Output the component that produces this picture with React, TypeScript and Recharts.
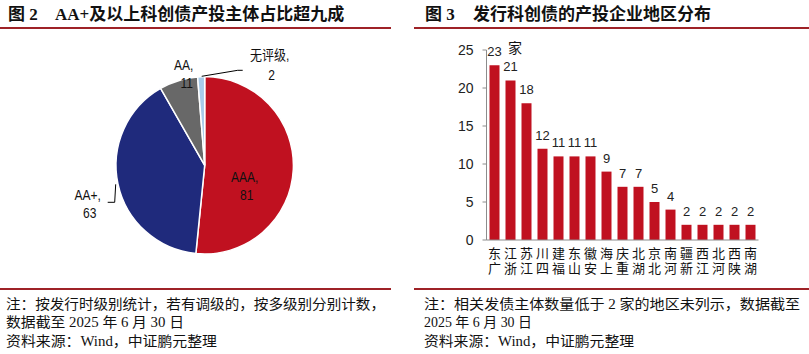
import { Bar, BarChart, Cell, LabelList, Pie, PieChart, XAxis, YAxis } from "recharts";

// 图2 发行时级别分布（家）
const ratingNames = ["AAA", "AA+", "AA", "无评级"];
const ratingCounts = [81, 63, 11, 2];
const ratingColors = ["#C01120", "#1F2A7C", "#686868", "#A8CBEA"];

// 图3 产投企业地区分布（家）
const regions = [
  "广东", "浙江", "江苏", "四川", "福建", "山东", "安徽", "上海", "重庆",
  "湖北", "北京", "河南", "新疆", "江西", "河北", "陕西", "湖南",
];
const regionCounts = [23, 21, 18, 12, 11, 11, 11, 9, 7, 7, 5, 4, 2, 2, 2, 2, 2];
const yTicks = [0, 5, 10, 15, 20, 25];

const pieData = ratingNames.map((name, i) => ({ name, value: ratingCounts[i] }));
const barData = regions.map((name, i) => ({ name, value: regionCounts[i] }));

const RED = "#C01120";
const RULE = "#9E2227";
const SERIF = '"Liberation Serif", "Times New Roman", "Noto Sans CJK SC", serif';
const SANS = '"Liberation Sans", Arial, "Noto Sans CJK SC", sans-serif';

document.body.style.margin = "0";

// label placement relative to pie centre
const pieLabelLayout: Record<string, { l1: [number, number]; l2: [number, number]; leader?: number[][] }> = {
  AAA: { l1: [40, 17], l2: [42, 35] },
  "AA+": { l1: [-117, 35], l2: [-115, 53], leader: [[-97, 37], [-90, 37], [-89, 19]] },
  AA: { l1: [-21, -95], l2: [-18, -77] },
  无评级: { l1: [65, -105], l2: [67, -85], leader: [[-3, -89], [33, -95], [38, -95]] },
};

function NarrowText({ x, y, children }: { x: number; y: number; children: any }) {
  return (
    <text
      transform={`translate(${x},${y}) scale(0.86,1)`}
      textAnchor="middle"
      fontSize={14}
      fontFamily={SANS}
      fill="#111"
    >
      {children}
    </text>
  );
}

function renderPieLabel(props: any) {
  const { cx, cy, name, value } = props;
  const lay = pieLabelLayout[name];
  if (!lay) return null;
  return (
    <g>
      {lay.leader && (
        <polyline
          points={lay.leader.map(([dx, dy]) => `${cx + dx},${cy + dy}`).join(" ")}
          fill="none"
          stroke="#000"
          strokeWidth={1}
        />
      )}
      <NarrowText x={cx + lay.l1[0]} y={cy + lay.l1[1]}>{name},</NarrowText>
      <NarrowText x={cx + lay.l2[0]} y={cy + lay.l2[1]}>{value}</NarrowText>
    </g>
  );
}

// two characters stacked vertically: second on top, first below (as in the source)
function RegionTick({ x, y, payload }: any) {
  const s: string = payload.value;
  return (
    <text
      x={x}
      y={y + 7}
      fontSize={13}
      fontFamily='"Noto Sans CJK SC", sans-serif'
      fill="#111"
      style={{ writingMode: "vertical-rl", textOrientation: "upright", letterSpacing: 2 } as any}
    >
      {s[1] + s[0]}
    </text>
  );
}

function Title({ left, num, text, textLeft }: { left: number; num: string; text: string; textLeft: number }) {
  const st = { position: "absolute", top: 4, fontFamily: SERIF, fontWeight: 700, fontSize: 17, lineHeight: "22px", color: "#111", whiteSpace: "nowrap" } as const;
  return (
    <>
      <div style={{ ...st, left }}>图 {num}</div>
      <div style={{ ...st, left: textLeft }}>{text}</div>
    </>
  );
}

const noteStyle = { fontFamily: SERIF, fontSize: 14, fill: "#111" } as const;

export default function App() {
  return (
    <div style={{ position: "relative", width: 809, height: 354, background: "#fff", overflow: "hidden" }}>
      <Title left={8} num="2" text="AA+及以上科创债产投主体占比超九成" textLeft={55} />
      <Title left={425} num="3" text="发行科创债的产投企业地区分布" textLeft={473} />
      <div style={{ position: "absolute", left: 0, top: 27, width: 391, height: 2, background: RULE }} />
      <div style={{ position: "absolute", left: 414, top: 27, width: 395, height: 2, background: RULE }} />
      <div style={{ position: "absolute", left: 0, top: 288, width: 391, height: 2, background: RULE }} />
      <div style={{ position: "absolute", left: 414, top: 288, width: 395, height: 2, background: RULE }} />

      <div style={{ position: "absolute", left: 0, top: 30 }}>
        <PieChart width={400} height={255} margin={{ top: 0, right: 0, bottom: 0, left: 0 }}>
          <Pie
            data={pieData}
            dataKey="value"
            nameKey="name"
            cx={204.7}
            cy={135.3}
            outerRadius={88.7}
            startAngle={90}
            endAngle={-270}
            stroke="#fff"
            strokeWidth={1.5}
            label={renderPieLabel}
            labelLine={false}
            isAnimationActive={false}
          >
            {pieData.map((d, i) => (
              <Cell key={d.name} fill={ratingColors[i]} />
            ))}
          </Pie>
        </PieChart>
      </div>

      <div style={{ position: "absolute", left: 410, top: 0 }}>
        <BarChart width={399} height={285} data={barData} margin={{ top: 50, right: 50.5, left: 0, bottom: 0 }}>
          <XAxis
            dataKey="name"
            interval={0}
            tickLine={false}
            tickSize={0}
            tickMargin={0}
            axisLine={{ stroke: "#8c8c8c" }}
            tick={<RegionTick />}
            height={45}
          />
          <YAxis
            width={76.5}
            domain={[0, 25]}
            ticks={yTicks}
            tickSize={4}
            tickMargin={9}
            tickLine={{ stroke: "#8c8c8c" }}
            axisLine={{ stroke: "#8c8c8c" }}
            tick={{ fill: "#222", fontSize: 14, fontFamily: SANS }}
          />
          <Bar dataKey="value" fill={RED} barSize={10} isAnimationActive={false}>
            <LabelList dataKey="value" position="top" offset={9} style={{ fill: "#222", fontSize: 13, fontFamily: SANS }} />
          </Bar>
        </BarChart>
      </div>
      <div style={{ position: "absolute", left: 508, top: 37, fontFamily: '"Noto Sans CJK SC", sans-serif', fontSize: 14, lineHeight: "20px", color: "#111" }}>
        家
      </div>

      <svg width={809} height={354} style={{ position: "absolute", left: 0, top: 0, pointerEvents: "none" }}>
        <text x={6} y={309} {...noteStyle} textLength={379} lengthAdjust="spacingAndGlyphs">
          注：按发行时级别统计，若有调级的，按多级别分别计数，
        </text>
        <text x={6} y={327} {...noteStyle} textLength={178} lengthAdjust="spacingAndGlyphs">
          数据截至 2025 年 6 月 30 日
        </text>
        <text x={6} y={346} {...noteStyle} textLength={211} lengthAdjust="spacingAndGlyphs">
          资料来源：Wind，中证鹏元整理
        </text>
        <text x={424} y={309} {...noteStyle} textLength={376} lengthAdjust="spacingAndGlyphs">
          注：相关发债主体数量低于 2 家的地区未列示，数据截至
        </text>
        <text x={424} y={327} {...noteStyle} textLength={108} lengthAdjust="spacingAndGlyphs">
          2025 年 6 月 30 日
        </text>
        <text x={424} y={346} {...noteStyle} textLength={210} lengthAdjust="spacingAndGlyphs">
          资料来源：Wind，中证鹏元整理
        </text>
      </svg>
    </div>
  );
}
